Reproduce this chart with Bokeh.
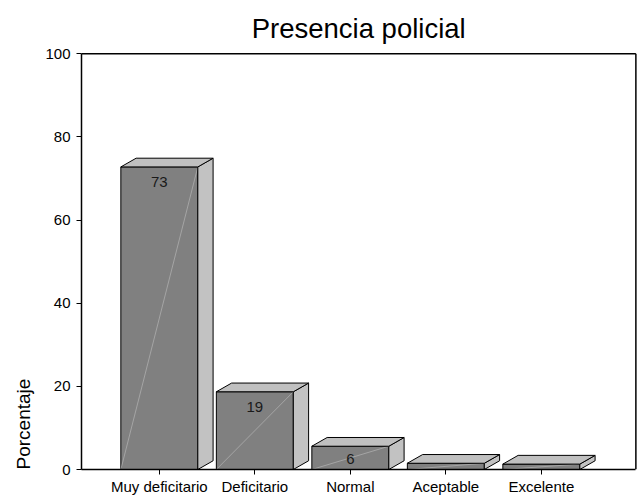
from bokeh.plotting import figure
from bokeh.models import FixedTicker, Range1d, Title
from bokeh.embed import file_html
from bokeh.resources import INLINE
from bokeh.core.properties import value

# ---- data ----
categories = ["Muy deficitario", "Deficitario", "Normal", "Aceptable", "Excelente"]
percentages = [72.8, 18.7, 5.6, 1.5, 1.3]
value_labels = ["73", "19", "6", "", ""]
y_ticks = [0, 20, 40, 60, 80, 100]
y_max = 100
title_text = "Presencia policial"
y_title = "Porcentaje"

FONT = "Liberation Sans"
xs = list(range(len(categories)))
hw = 0.403          # half bar width (data units)
dx, dy = 0.16, 2.1  # 3D depth offset
x_lo, x_hi = -0.815, 4.99

p = figure(width=638, height=497, output_backend="svg", toolbar_location=None,
           title=None,
           x_range=Range1d(x_lo, 5.007), y_range=Range1d(0, 112.84),
           min_border_left=81, min_border_right=1, min_border_top=0,
           min_border_bottom=26, background_fill_color="white",
           border_fill_color="white")
p.grid.visible = False
p.outline_line_color = None

# plot box: top and right edges (left/bottom are the axes)
p.segment(x0=[x_lo, x_hi], y0=[y_max, 0], x1=[x_hi, x_hi], y1=[y_max, y_max],
          line_color="black", line_width=1.5)

# chart title (inside the extended canvas above the plot box)
p.text(x=[(x_lo + x_hi) / 2], y=[106.1], text=[title_text], text_font=value(FONT),
       text_font_size="27.5px", text_align="center", text_baseline="alphabetic",
       text_color="black")

# front faces
p.quad(left=[x - hw for x in xs], right=[x + hw for x in xs],
       bottom=[0] * len(xs), top=percentages,
       fill_color="#808080", line_color="black", line_width=1)

# faint diagonal artefact on front faces
p.segment(x0=[x - hw for x in xs], y0=[0] * len(xs),
          x1=[x + hw for x in xs], y1=percentages,
          line_color="#b4b4b4", line_width=1, line_alpha=0.7)

# side faces
side_xs = [[x + hw, x + hw + dx, x + hw + dx, x + hw] for x in xs]
side_ys = [[0, dy, v + dy, v] for v in percentages]
p.patches(side_xs, side_ys, fill_color="#c2c2c2", line_color="black", line_width=1)

# top faces
top_xs = [[x - hw, x + hw, x + hw + dx, x - hw + dx] for x in xs]
top_ys = [[v, v, v + dy, v + dy] for v in percentages]
p.patches(top_xs, top_ys, fill_color="#c0c0c0", line_color="black", line_width=1)

# value labels
lab_x = [x for x, t in zip(xs, value_labels) if t]
lab_y = [max(v - 3.7, 2.55) for v, t in zip(percentages, value_labels) if t]
lab_t = [t for t in value_labels if t]
p.text(x=lab_x, y=lab_y, text=lab_t, text_font=value(FONT), text_font_size="15px",
       text_align="center", text_baseline="alphabetic", text_color="#1a1a1a")

# axes
p.yaxis.ticker = FixedTicker(ticks=y_ticks)
p.yaxis.bounds = (0, y_max)
p.yaxis.minor_tick_line_color = None
p.yaxis.major_tick_in = 0
p.yaxis.major_tick_out = 5
p.yaxis.major_label_standoff = 6
p.yaxis.major_label_text_font = FONT
p.yaxis.major_label_text_font_size = "15px"
p.yaxis.major_label_text_color = "black"
p.yaxis.axis_line_color = "black"
p.yaxis.axis_line_width = 1.5

p.xaxis.ticker = FixedTicker(ticks=xs)
p.xaxis.bounds = (x_lo, x_hi)
p.xaxis.major_label_overrides = {i: c for i, c in enumerate(categories)}
p.xaxis.minor_tick_line_color = None
p.xaxis.major_tick_in = 0
p.xaxis.major_tick_out = 5
p.xaxis.major_label_standoff = 3
p.xaxis.major_label_text_font = FONT
p.xaxis.major_label_text_font_size = "15px"
p.xaxis.major_label_text_color = "black"
p.xaxis.axis_line_color = "black"
p.xaxis.axis_line_width = 1.5

# y-axis title, placed at the bottom of the left margin
ytitle = Title(text=y_title, align="left", text_font=FONT,
               text_font_size="19px", text_font_style="normal",
               text_color="black", standoff=18)
p.add_layout(ytitle, "left")

open("out.html", "w").write(file_html(p, INLINE))
